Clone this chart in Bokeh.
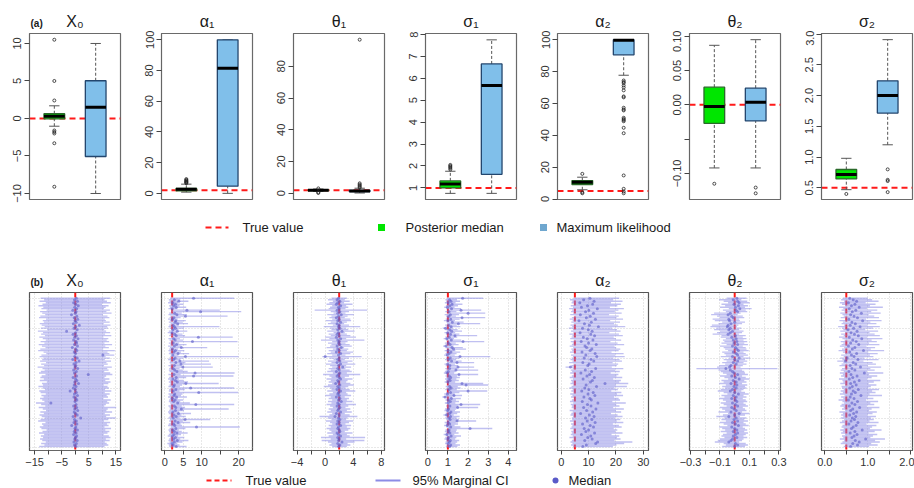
from bokeh.plotting import figure
from bokeh.layouts import row, column
from bokeh.models import Range1d, FixedTicker, Span, ColumnDataSource
from bokeh.embed import file_html
from bokeh.resources import INLINE
from bokeh.core.properties import value

FONT = "Liberation Sans"

params = ["X₀", "α₁", "θ₁", "σ₁", "α₂", "θ₂", "σ₂"]
true_values = [0, 2, 2, 1, 5, 0, 0.5]

# ---------------- (a) boxplots of the point estimates ----------------
# five-number summaries: lower whisker, Q1, median, Q3, upper whisker
post_median_box = [
    [-1.03, -0.04, 0.31, 0.63, 1.69],
    [0.8, 1.7, 2.6, 3.2, 6.0],
    [1.2, 1.75, 1.95, 2.15, 2.7],
    [0.75, 1.0, 1.18, 1.32, 1.76],
    [5.8, 9.1, 10.5, 11.6, 13.7],
    [-0.092, -0.027, -0.0025, 0.0258, 0.0868],
    [0.47, 0.644, 0.716, 0.798, 0.98],
]
max_lik_box = [
    [-10.0, -5.07, 1.51, 5.03, 10.0],
    [0.0, 4.7, 81.4, 100.0, 100.0],
    [0.2, 1.0, 1.4, 1.9, 3.2],
    [0.75, 1.62, 5.67, 6.66, 7.76],
    [77.7, 90.5, 99.6, 100.0, 100.0],
    [-0.092, -0.0234, 0.0038, 0.0243, 0.095],
    [1.2, 1.716, 2.0, 2.24, 2.91],
]
post_median_out = [
    [10.5, 5.0, 2.4, -1.6, -1.8, -2.0, -3.3, -9.1],
    [6.6, 7.0, 7.4, 7.8, 8.2, 8.7, 9.3],
    [0.2, 0.6, 3.1],
    [1.84, 1.9, 1.95, 2.0, 2.05],
    [15.8, 4.2, 3.6],
    [-0.115],
    [0.40],
]
max_lik_out = [
    [],
    [],
    [3.6, 4.2, 4.9, 5.5, 6.3, 96.8],
    [],
    [74.4, 73.5, 72.8, 71.3, 70.0, 68.2, 64.4, 63.8, 57.3, 56.2, 55.6, 51.0,
     50.2, 49.5, 48.8, 44.7, 41.3, 14.8, 6.4, 4.7, 3.6],
    [-0.1206, -0.129],
    [0.80, 0.63, 0.61, 0.43],
]
box_ylim = [(-10.8, 11.33), (-4.0, 104.1), (-3.9, 100.7), (0.47, 8.05),
            (-0.3, 103.9), (-0.138, 0.104), (0.31, 3.01)]
box_yticks = [
    [-10, -5, 0, 5, 10],
    [0, 20, 40, 60, 80, 100],
    [0, 20, 40, 60, 80],
    [1, 2, 3, 4, 5, 6, 7, 8],
    [0, 20, 40, 60, 80, 100],
    [-0.1, -0.05, 0.0, 0.05, 0.1],
    [0.5, 1.0, 1.5, 2.0, 2.5, 3.0],
]
box_ylabels = [
    ["−10", "−5", "0", "5", "10"],
    ["0", "20", "40", "60", "80", "100"],
    ["0", "20", "40", "60", "80"],
    ["1", "2", "3", "4", "5", "6", "7", "8"],
    ["0", "20", "40", "60", "80", "100"],
    ["−0.10", "", "0.00", "0.05", "0.10"],
    ["0.5", "1.0", "1.5", "2.0", "2.5", "3.0"],
]

# ---------------- (b) 95% marginal intervals, 100 data sets (top row first) ----------------
lo_x0 = [-12.8,-11.5,-13.2,-10.9,-12.1,-13.6,-11.8,-12.5,-10.6,-13.0,
         -12.2,-11.1,-12.9,-13.4,-10.8,-12.0,-11.6,-13.1,-12.4,-11.3,
         -12.7,-10.4,-13.8,-11.9,-12.6,-11.2,-13.3,-12.0,-10.9,-12.8,
         -11.4,-13.5,-12.3,-11.0,-12.9,-13.7,-11.7,-10.7,-12.5,-13.2,
         -11.8,-12.2,-13.0,-10.8,-12.6,-11.5,-13.9,-12.1,-11.3,-12.7,
         -13.4,-11.0,-12.4,-12.9,-11.6,-13.1,-10.5,-12.3,-11.9,-13.6,
         -12.0,-11.2,-13.3,-12.8,-10.9,-12.5,-11.7,-13.0,-12.2,-11.4,
         -14.5,-12.6,-11.1,-13.5,-12.0,-10.8,-12.9,-11.6,-13.2,-12.4,
         -11.3,-12.8,-13.7,-11.0,-12.3,-11.8,-13.1,-12.5,-10.6,-12.1,
         -13.4,-11.5,-12.7,-11.9,-13.0,-12.2,-10.9,-12.6,-11.4,-13.3]
med_x0 = [0.4,-0.3,0.8,-0.6,0.2,1.1,-0.2,0.5,-0.9,0.3,
          0.0,-1.4,0.6,-0.4,0.9,-0.1,0.3,-0.7,1.5,0.2,
          -0.5,0.7,-3.2,0.1,-0.8,0.4,-0.2,1.0,-0.6,0.3,
          0.5,-0.3,0.8,-1.1,0.2,0.6,-0.4,0.1,10.2,-0.2,
          0.7,-0.9,1.4,0.3,-0.5,0.2,-0.1,0.9,-0.6,0.4,
          -0.3,4.8,0.5,-0.8,0.1,0.6,-0.2,1.2,-0.4,0.3,
          -0.7,0.0,-1.9,0.4,-0.3,0.8,-0.5,0.2,0.6,-0.1,
          -9.0,0.3,-0.6,0.5,-0.2,0.9,-0.4,0.1,0.7,-0.8,
          2.0,-0.3,0.4,-0.5,0.6,-1.3,0.2,-0.1,0.8,-0.4,
          0.3,-0.6,0.5,0.1,-0.2,0.7,-0.5,0.4,-0.3,0.2]
hi_x0 = [12.9,10.8,11.7,13.1,9.9,12.3,11.2,10.6,12.8,11.5,
         13.4,10.2,11.9,12.6,10.9,11.3,12.7,10.5,13.0,11.8,
         12.1,10.7,11.4,12.9,11.0,13.3,10.4,12.2,11.6,12.5,
         10.8,13.6,11.1,12.4,10.3,14.6,11.9,12.6,14.4,11.2,
         12.8,10.9,13.2,11.5,12.0,10.6,13.5,11.8,12.3,10.7,
         12.9,13.7,11.4,10.8,12.6,11.1,13.0,12.2,10.5,11.9,
         12.4,11.0,13.3,10.9,12.7,11.6,12.1,10.4,13.1,11.8,
         12.5,11.3,10.7,15.1,12.0,11.5,13.6,10.9,12.8,11.4,
         14.9,12.2,10.6,12.9,11.7,12.3,10.8,13.2,11.1,12.6,
         11.9,10.5,12.4,13.0,11.3,12.7,10.9,11.6,12.2,10.8]

lo_a1 = [1.5,1.1,1.3,0.9,1.6,1.2,1.4,1.0,1.7,1.8,
         1.2,1.0,1.5,1.3,0.9,1.4,1.1,1.6,1.2,1.0,
         1.3,1.7,1.1,0.8,1.4,1.2,1.9,1.0,1.3,1.6,
         1.1,1.5,0.9,1.4,1.2,1.0,1.3,1.1,1.6,1.5,
         1.2,0.9,1.4,1.3,1.5,1.0,1.4,1.2,1.1,1.3,
         1.8,1.0,1.6,1.2,0.9,1.4,1.1,1.5,1.3,1.0,
         1.7,1.2,1.1,1.8,1.0,1.3,0.9,1.4,1.2,1.1,
         1.5,1.6,1.0,1.3,1.4,1.2,0.9,1.1,1.5,1.3,
         1.0,1.4,1.2,1.6,1.1,0.9,1.7,1.3,1.0,1.2,
         1.4,1.1,0.8,1.5,1.2,1.0,1.3,0.7,1.1,1.2]
med_a1 = [7.8,2.6,3.8,2.2,2.9,2.4,3.1,2.0,6.0,9.7,
          2.7,3.3,5.6,2.5,2.1,3.0,2.8,3.5,2.3,2.6,
          2.9,2.2,3.4,2.0,2.7,3.1,9.1,2.4,2.8,7.5,
          2.3,3.2,2.6,4.5,2.1,2.9,2.5,3.6,2.2,5.6,
          2.8,2.4,4.1,3.0,4.4,2.6,4.9,2.3,2.7,3.3,
          8.2,2.5,7.8,3.1,2.2,2.9,3.4,5.7,2.6,2.4,
          7.0,3.0,2.3,9.2,2.7,2.5,3.2,2.1,2.8,2.4,
          3.5,8.4,2.6,3.0,4.5,2.9,2.2,3.7,2.5,3.1,
          2.3,5.5,2.8,3.6,2.4,2.7,8.6,3.0,2.2,2.6,
          3.3,2.5,2.1,2.9,2.4,3.4,2.6,2.0,2.3,3.1]
hi_a1 = [18.8,4.2,6.4,3.6,5.1,4.0,5.8,3.4,14.9,20.7,
         4.6,6.0,17.0,4.3,3.5,5.7,4.9,6.3,3.8,14.8,
         5.2,3.7,6.1,3.3,4.8,5.5,18.4,4.1,5.0,19.7,
         3.9,5.9,4.5,11.5,3.6,5.3,4.4,6.6,3.7,20.0,
         5.0,4.2,12.0,5.6,12.5,4.6,13.0,4.0,4.9,6.2,
         18.9,4.3,18.6,5.8,3.8,5.1,6.3,14.6,4.7,4.1,
         18.8,5.4,4.0,19.9,4.8,4.4,6.0,3.5,5.0,4.2,
         6.8,18.8,4.6,5.5,17.3,5.2,3.9,7.1,4.5,5.7,
         4.0,12.3,4.9,6.9,4.3,4.7,20.3,5.6,3.8,4.6,
         6.2,4.4,3.6,5.3,4.2,6.4,4.8,3.4,4.0,5.9]

lo_t1 = [0.9,0.4,1.1,0.6,0.2,1.0,0.7,0.5,-1.5,0.8,
         1.2,0.3,0.9,0.6,1.0,0.1,0.8,0.4,1.1,-0.2,
         0.7,0.9,0.3,1.2,0.5,0.8,0.0,0.6,-0.6,1.0,
         0.4,0.9,0.7,0.2,1.1,0.5,0.8,0.3,1.0,-0.4,
         0.6,1.2,0.4,0.9,0.1,0.7,1.0,0.5,0.8,0.3,
         1.1,-0.3,0.6,0.9,0.2,0.8,0.5,1.0,0.4,-0.2,
         0.7,0.9,0.3,1.1,0.6,0.0,0.8,0.5,1.0,0.4,
         0.9,0.2,0.7,1.1,0.5,0.8,0.3,1.0,0.6,-0.8,
         0.4,0.9,0.1,0.7,1.0,0.5,0.8,0.2,0.6,0.9,
         0.3,1.1,0.5,-0.6,0.8,-0.5,0.4,0.9,0.6,1.0]
med_t1 = [1.9,1.7,2.1,1.8,1.6,2.2,1.9,2.0,1.7,2.1,
          1.8,2.3,1.9,1.6,2.0,1.8,2.2,1.7,2.0,1.9,
          2.1,1.8,2.4,1.9,1.7,2.0,1.6,2.2,1.8,2.0,
          1.9,2.1,1.7,2.3,1.8,2.0,1.6,2.2,1.9,0.0,
          2.0,1.8,2.1,1.7,2.2,1.9,2.5,1.8,2.0,1.6,
          2.1,1.9,1.7,2.0,2.2,1.8,1.9,1.5,2.1,1.8,
          2.0,1.7,2.2,1.9,1.8,2.0,1.6,2.1,1.9,2.3,
          1.8,2.0,1.7,2.1,1.9,1.8,2.2,1.6,2.0,1.4,
          1.9,2.1,1.8,2.0,1.7,2.2,1.9,1.8,2.0,2.1,
          1.7,1.9,2.2,1.8,2.0,1.9,2.4,1.8,2.1,1.9]
hi_t1 = [3.1,2.8,3.5,2.7,3.9,3.0,3.3,2.9,6.0,3.4,
         2.9,4.1,3.2,2.8,3.6,3.7,3.1,2.7,3.4,5.0,
         3.0,3.3,4.2,2.8,3.1,3.6,4.4,3.0,5.6,3.2,
         2.9,3.5,3.8,2.7,3.3,3.1,4.0,3.6,2.9,5.2,
         3.4,2.8,3.9,3.2,4.3,3.0,3.7,2.9,3.5,3.8,
         3.1,5.0,3.4,2.8,3.9,3.2,3.0,3.6,4.1,3.3,
         2.9,3.5,4.3,3.0,3.2,3.7,2.8,3.4,3.1,3.9,
         3.0,4.4,3.3,2.9,3.6,3.1,3.8,2.8,3.5,4.6,
         3.2,3.0,4.0,3.4,2.9,3.7,3.1,3.6,3.3,2.8,
         3.9,3.1,3.5,5.7,3.0,5.6,4.2,3.2,3.6,3.1]

lo_s1 = [0.95,0.88,0.92,0.85,0.97,0.90,0.82,0.93,0.96,0.87,
         0.98,0.84,0.91,0.95,0.89,0.80,0.93,0.97,0.86,0.92,
         0.74,0.88,0.95,0.83,0.90,0.96,0.87,0.79,0.93,0.98,
         0.85,0.91,0.76,0.89,0.95,0.84,0.92,0.88,0.81,0.97,
         0.90,0.86,0.94,0.99,0.83,0.89,0.96,0.87,0.92,0.85,
         0.80,0.97,0.88,0.93,0.86,0.91,0.84,0.98,0.99,0.89,
         0.95,0.87,1.00,0.92,0.82,0.90,0.73,0.94,0.88,0.96,
         0.85,0.99,0.91,0.97,0.86,0.83,0.93,0.89,0.78,0.95,
         0.87,0.92,0.96,0.84,0.90,0.81,0.93,1.00,0.88,0.85,
         0.91,0.79,0.95,0.87,0.83,0.92,0.89,0.86,0.94,0.90]
med_s1 = [1.73,1.08,1.15,1.02,1.21,1.10,0.98,1.18,1.65,1.06,
          2.00,1.12,1.04,1.70,1.14,1.00,1.22,1.52,1.05,1.16,
          0.88,1.09,1.19,0.99,1.13,1.35,1.07,0.95,1.17,1.75,
          1.03,1.11,0.90,1.20,1.28,1.01,1.15,1.06,0.97,1.60,
          1.12,1.04,1.18,1.45,0.99,1.10,1.50,1.08,1.40,1.02,
          0.96,1.55,1.07,1.14,1.05,1.11,1.00,1.70,1.90,1.09,
          1.16,1.06,2.00,1.13,0.98,1.30,0.86,1.17,1.03,1.12,
          1.01,1.65,1.10,1.48,1.04,0.99,1.15,1.08,0.94,1.13,
          1.05,1.11,1.45,1.02,1.09,0.97,1.14,2.10,1.06,1.03,
          1.10,0.95,1.16,1.04,1.00,1.12,1.07,1.01,1.14,1.08]
hi_s1 = [2.75,1.45,1.60,1.38,1.72,1.50,1.33,1.65,2.65,1.42,
         2.85,1.55,1.40,2.85,1.58,1.35,1.78,2.60,1.44,1.62,
         1.25,1.48,1.70,1.36,1.57,2.45,1.46,1.30,1.66,2.80,
         1.39,1.53,1.28,1.74,1.90,1.37,1.61,1.43,1.34,3.10,
         1.56,1.41,1.68,2.30,1.35,1.50,2.30,1.47,2.50,1.38,
         1.31,2.50,1.45,1.59,1.42,1.54,1.36,2.75,3.00,1.49,
         1.63,1.44,2.95,1.57,1.34,1.70,1.22,1.64,1.40,1.55,
         1.37,2.60,1.52,2.50,1.41,1.35,1.60,1.46,1.29,1.58,
         1.43,1.55,2.40,1.39,1.50,1.33,1.62,3.20,1.44,1.40,
         1.53,1.32,1.65,1.42,1.36,1.56,1.46,1.38,1.60,1.47]

lo_a2 = [4.5,3.2,4.1,3.8,4.7,3.5,4.3,2.9,4.0,3.6,
         4.4,3.3,4.8,3.9,3.1,4.2,3.7,4.6,3.4,4.0,
         2.8,4.3,3.6,4.5,3.0,4.1,3.8,3.3,4.6,3.5,
         4.2,3.9,3.1,4.4,3.7,4.0,3.2,4.7,3.6,4.3,
         3.8,3.4,4.1,2.9,4.5,3.7,1.6,4.2,3.5,4.0,
         3.3,4.6,3.9,3.1,4.3,3.6,4.0,3.4,4.4,3.8,
         3.0,4.2,3.7,4.5,3.3,4.1,3.6,4.8,3.9,3.2,
         4.4,3.5,4.0,3.8,4.6,3.1,4.2,3.7,3.4,4.3,
         3.9,4.0,3.2,4.5,3.6,4.1,3.8,3.3,4.4,3.7,
         4.0,3.5,4.2,3.0,4.6,3.9,3.4,4.1,3.6,4.3]
med_a2 = [10.5,8.2,12.0,6.8,11.5,9.6,7.4,13.2,10.1,8.9,
          11.8,7.0,10.6,9.2,12.5,6.5,11.0,8.5,10.3,13.6,
          7.8,9.9,11.3,6.9,10.8,12.2,8.1,9.5,11.6,7.3,
          10.0,12.8,8.7,9.3,11.2,10.6,7.6,12.4,9.0,13.0,
          8.4,10.9,11.9,7.9,10.2,9.7,3.4,12.6,8.8,11.1,
          7.2,10.4,9.4,12.1,8.0,11.4,10.7,16.0,9.1,12.9,
          8.6,10.1,7.5,11.7,9.8,12.3,8.3,10.5,11.0,7.7,
          13.4,9.6,10.9,8.2,12.7,9.3,11.5,7.1,10.3,12.0,
          8.9,11.2,9.5,12.4,7.8,10.6,11.8,8.4,10.0,9.0,
          12.2,7.4,10.8,9.7,11.3,8.6,13.3,12.6,9.2,7.9]
hi_a2 = [21.2,19.0,22.4,18.2,21.8,20.5,17.8,22.9,20.9,19.6,
         22.1,17.5,21.0,20.2,22.6,17.9,21.5,19.3,20.7,23.4,
         18.6,20.4,21.7,17.6,21.1,22.5,19.2,20.0,21.9,18.0,
         20.6,23.0,19.5,20.1,21.6,21.0,18.4,22.8,19.8,23.2,
         19.1,21.3,22.2,18.8,20.8,20.3,18.5,22.7,19.7,21.4,
         18.1,20.9,20.2,22.3,19.0,21.8,21.2,24.5,20.0,24.0,
         19.4,20.7,18.3,22.0,20.4,22.6,19.3,21.0,21.5,18.7,
         23.6,20.1,21.3,19.0,22.9,20.0,21.9,18.2,20.6,22.4,
         19.6,21.6,20.3,22.7,18.9,21.1,22.1,19.2,20.5,19.8,
         22.4,18.4,21.2,20.4,21.7,19.5,26.0,23.0,20.2,18.9]

lo_t2 = [-0.055,-0.105,-0.075,-0.045,-0.090,-0.065,-0.100,-0.040,-0.080,-0.060,
         -0.140,-0.160,-0.120,-0.100,-0.150,-0.135,-0.085,-0.110,-0.155,-0.165,
         -0.125,-0.140,-0.100,-0.120,-0.150,-0.090,-0.095,-0.060,-0.080,-0.070,
         -0.090,-0.055,-0.100,-0.075,-0.065,-0.045,-0.085,-0.070,-0.060,-0.095,
         -0.040,-0.075,-0.055,-0.085,-0.065,-0.105,-0.120,-0.260,-0.110,-0.095,
         -0.080,-0.055,-0.100,-0.070,-0.045,-0.090,-0.075,-0.105,-0.060,-0.085,
         -0.065,-0.095,-0.115,-0.075,-0.050,-0.090,-0.070,-0.105,-0.080,-0.060,
         -0.095,-0.075,-0.055,-0.100,-0.085,-0.065,-0.110,-0.045,-0.080,-0.125,
         -0.070,-0.090,-0.060,-0.100,-0.075,-0.050,-0.105,-0.085,-0.065,-0.095,
         -0.055,-0.080,-0.090,-0.070,-0.100,-0.115,-0.135,-0.075,-0.060,-0.085]
med_t2 = [0.015,-0.010,0.020,0.030,-0.005,0.025,0.005,0.035,0.010,0.020,
          -0.030,-0.045,-0.020,-0.010,-0.040,-0.035,0.000,-0.025,-0.045,-0.050,
          -0.030,-0.040,-0.015,-0.030,-0.045,0.005,-0.020,0.010,-0.010,0.015,
          -0.005,0.020,-0.015,0.005,0.015,0.025,-0.010,0.010,0.020,-0.015,
          0.030,0.000,0.020,-0.010,0.010,-0.025,-0.035,-0.060,-0.030,-0.015,
          -0.005,0.020,-0.020,0.005,0.030,-0.010,0.010,-0.025,0.015,-0.005,
          0.010,-0.015,-0.030,0.000,0.025,-0.010,0.010,-0.020,0.005,0.015,
          -0.015,0.005,0.020,-0.020,-0.005,0.010,-0.025,0.030,0.000,-0.040,
          0.010,-0.005,0.020,-0.015,0.005,0.025,-0.020,0.000,0.015,-0.010,
          0.020,0.005,-0.010,0.015,-0.015,-0.025,-0.040,0.005,0.020,0.000]
hi_t2 = [0.080,0.045,0.085,0.100,0.060,0.090,0.070,0.115,0.075,0.085,
         0.040,0.020,0.055,0.065,0.030,0.035,0.070,0.050,0.025,0.015,
         0.045,0.030,0.060,0.050,0.030,0.075,0.055,0.080,0.060,0.085,
         0.065,0.090,0.055,0.075,0.080,0.095,0.060,0.075,0.090,0.060,
         0.105,0.070,0.085,0.060,0.080,0.055,0.040,0.290,0.050,0.065,
         0.070,0.090,0.050,0.075,0.100,0.065,0.080,0.050,0.085,0.070,
         0.080,0.060,0.045,0.070,0.095,0.060,0.080,0.055,0.075,0.085,
         0.060,0.075,0.090,0.055,0.070,0.080,0.050,0.100,0.070,0.035,
         0.080,0.065,0.090,0.060,0.075,0.095,0.055,0.070,0.085,0.065,
         0.090,0.075,0.060,0.085,0.060,0.050,0.030,0.075,0.090,0.070]

lo_s2 = [0.42,0.38,0.45,0.35,0.40,0.47,0.33,0.43,0.39,0.46,
         0.36,0.41,0.44,0.37,0.48,0.34,0.42,0.39,0.45,0.31,
         0.40,0.43,0.36,0.47,0.38,0.44,0.33,0.41,0.46,0.37,
         0.43,0.39,0.35,0.45,0.40,0.32,0.42,0.47,0.38,0.44,
         0.36,0.41,0.29,0.43,0.39,0.34,0.46,0.40,0.37,0.44,
         0.35,0.42,0.38,0.45,0.33,0.41,0.43,0.36,0.47,0.39,
         0.40,0.44,0.37,0.42,0.35,0.46,0.38,0.43,0.32,0.41,
         0.45,0.39,0.36,0.44,0.40,0.47,0.34,0.42,0.38,0.43,
         0.37,0.45,0.40,0.35,0.46,0.41,0.39,0.44,0.36,0.42,
         0.38,0.47,0.40,0.43,0.35,0.45,0.41,0.37,0.48,0.44]
med_s2 = [0.58,0.66,0.74,0.55,0.70,0.62,0.80,0.57,0.72,0.64,
          0.85,0.60,0.68,0.76,0.56,0.88,0.63,0.71,0.59,0.82,
          0.67,0.54,0.75,0.61,0.69,0.78,0.57,0.86,0.65,0.73,
          0.60,0.79,0.55,0.70,0.64,0.90,0.58,0.74,0.62,0.68,
          0.52,0.77,0.48,0.66,0.72,0.59,0.83,0.63,0.70,0.56,
          0.92,0.61,0.75,0.65,0.57,0.80,0.69,0.60,0.73,0.64,
          0.58,0.78,0.66,0.71,0.62,0.84,0.59,0.68,0.55,0.76,
          0.63,0.70,0.57,0.81,0.65,0.60,0.74,0.67,0.58,0.72,
          0.64,0.69,0.61,0.77,0.56,0.73,0.66,0.62,0.87,0.70,
          0.59,0.75,0.68,0.63,0.95,0.71,0.80,0.65,0.76,0.60]
hi_s2 = [1.00,1.10,1.25,0.95,1.18,1.05,1.35,0.98,1.22,1.08,
         1.30,1.02,1.15,1.26,0.96,1.32,1.06,1.20,1.00,1.28,
         1.12,0.94,1.24,1.04,1.16,1.28,0.99,1.34,1.09,1.21,
         1.03,1.27,0.97,1.17,1.07,1.38,1.01,1.23,1.05,1.13,
         0.92,1.25,0.90,1.11,1.19,1.00,1.31,1.06,1.16,0.98,
         1.36,1.03,1.22,1.09,0.99,1.29,1.14,1.02,1.20,1.07,
         1.01,1.26,1.10,1.18,1.04,1.33,1.00,1.13,0.96,1.24,
         1.06,1.15,0.98,1.27,1.09,1.03,1.21,1.11,1.00,1.19,
         1.07,1.14,1.04,1.25,0.97,1.20,1.10,1.05,1.32,1.16,
         1.02,1.22,1.12,1.06,1.40,1.17,1.28,1.08,1.23,1.03]

ci_lo = [lo_x0, lo_a1, lo_t1, lo_s1, lo_a2, lo_t2, lo_s2]
ci_med = [med_x0, med_a1, med_t1, med_s1, med_a2, med_t2, med_s2]
ci_hi = [hi_x0, hi_a1, hi_t1, hi_s1, hi_a2, hi_t2, hi_s2]

ci_xlim = [(-16.9, 16.7), (-0.88, 23.75), (-4.52, 8.47), (-0.11, 4.4),
           (-1.35, 31.9), (-0.307, 0.311), (-0.077, 2.04)]
ci_xticks = [
    [-15, -10, -5, 0, 5, 10, 15],
    [0, 5, 10, 15, 20],
    [-4, -2, 0, 2, 4, 6, 8],
    [0, 1, 2, 3, 4],
    [0, 10, 20, 30],
    [-0.3, -0.2, -0.1, 0.0, 0.1, 0.2, 0.3],
    [0.0, 0.5, 1.0, 1.5, 2.0],
]
ci_xlabels = [
    ["−15", "", "−5", "", "5", "", "15"],
    ["0", "5", "10", "", "20"],
    ["−4", "", "0", "", "4", "", "8"],
    ["0", "1", "2", "3", "4"],
    ["0", "10", "20", "30"],
    ["−0.3", "", "−0.1", "", "0.1", "", "0.3"],
    ["0.0", "", "1.0", "", "2.0"],
]
row_grid = [0, 20, 40, 60, 80, 100]

# ---------------- styling / layout ----------------
PM_FILL, PM_LINE = "#00e600", "#2a6a2a"
ML_FILL, ML_LINE = "#80bfea", "#23466e"
CI_COLOR, MED_COLOR = "#8c8ce6", "#5a5ac8"
BOX_W = 0.5
PANEL_W, LAST_W = 132, 122
FRAME_L, FRAME_W = 29, 91
PAGE_W = 914


def base_fig(i, height, x_range, y_range, top, bottom):
    last = i == len(params) - 1
    p = figure(width=LAST_W if last else PANEL_W, height=height,
               x_range=x_range, y_range=y_range,
               min_border_left=FRAME_L, min_border_right=2 if last else 12,
               min_border_top=top, min_border_bottom=bottom,
               output_backend="svg", toolbar_location=None)
    p.outline_line_color = "#6a6a6a"
    p.outline_line_width = 1.2
    p.background_fill_color = "white"
    p.border_fill_color = "white"
    return p


def style_axis(ax, ticks, labels, orientation="horizontal"):
    ax.ticker = FixedTicker(ticks=ticks)
    ax.major_label_overrides = {t: s for t, s in zip(ticks, labels)}
    ax.minor_tick_line_color = None
    ax.major_tick_in = 0
    ax.major_tick_out = 4
    ax.major_tick_line_color = "#444444"
    ax.axis_line_color = "#666666"
    ax.major_label_text_font = FONT
    ax.major_label_text_font_size = "11px"
    ax.major_label_text_color = "#333333"
    ax.major_label_standoff = 3
    ax.major_label_orientation = orientation


def box_panel(i):
    p = base_fig(i, 180, Range1d(0.4, 2.6), Range1d(*box_ylim[i]), 3, 11)
    p.xaxis.visible = False
    p.grid.visible = False
    style_axis(p.yaxis[0], box_yticks[i], box_ylabels[i], "vertical")
    p.yaxis.major_tick_out = 5

    p.add_layout(Span(location=true_values[i], dimension="width", line_color="#ff1a1a",
                      line_dash="6 4", line_width=2, level="underlay"))

    stats = [post_median_box[i], max_lik_box[i]]
    xs = [1, 2]
    src = ColumnDataSource(dict(
        x=xs,
        left=[x - BOX_W / 2 for x in xs], right=[x + BOX_W / 2 for x in xs],
        cl=[x - BOX_W / 4 for x in xs], cr=[x + BOX_W / 4 for x in xs],
        lw=[s[0] for s in stats], q1=[s[1] for s in stats], med=[s[2] for s in stats],
        q3=[s[3] for s in stats], hw=[s[4] for s in stats],
        fill=[PM_FILL, ML_FILL], line=[PM_LINE, ML_LINE],
    ))
    p.segment("x", "q3", "x", "hw", source=src, line_color="#555555", line_dash="3 2", line_width=1)
    p.segment("x", "lw", "x", "q1", source=src, line_color="#555555", line_dash="3 2", line_width=1)
    p.segment("cl", "hw", "cr", "hw", source=src, line_color="#555555", line_width=1)
    p.segment("cl", "lw", "cr", "lw", source=src, line_color="#555555", line_width=1)
    p.quad(left="left", right="right", bottom="q1", top="q3", source=src,
           fill_color="fill", line_color="line", line_width=1.3)
    p.segment("left", "med", "right", "med", source=src, line_color="black", line_width=3)

    ox = [1] * len(post_median_out[i]) + [2] * len(max_lik_out[i])
    oy = post_median_out[i] + max_lik_out[i]
    p.scatter(ox, oy, marker="circle", size=3, fill_color=None, line_color="#222222", line_width=0.8)
    return p


def ci_panel(i):
    n = len(ci_lo[i])
    p = base_fig(i, 183, Range1d(*ci_xlim[i]), Range1d(-1.7, n + 3.8), 3, 22)
    p.yaxis.visible = False
    style_axis(p.xaxis[0], ci_xticks[i], ci_xlabels[i])
    p.xgrid.ticker = FixedTicker(ticks=ci_xticks[i])
    p.ygrid.ticker = FixedTicker(ticks=row_grid)
    p.grid.grid_line_color = "#d0d0d0"
    p.grid.grid_line_dash = "1 2"
    p.grid.grid_line_width = 1
    p.outline_line_color = "#555555"

    p.add_layout(Span(location=true_values[i], dimension="height", line_color="#ff1a1a",
                      line_dash="5 3", line_width=2, level="underlay"))
    src = ColumnDataSource(dict(
        y=[n - k for k in range(n)], lo=ci_lo[i], med=ci_med[i], hi=ci_hi[i],
    ))
    p.segment("lo", "y", "hi", "y", source=src, line_color=CI_COLOR, line_alpha=0.55, line_width=1.4)
    p.scatter("med", "y", source=src, marker="circle", size=3, fill_color=MED_COLOR,
              line_color=None, fill_alpha=0.6)
    return p


def strip(height):
    p = figure(width=PAGE_W, height=height, x_range=Range1d(0, PAGE_W), y_range=Range1d(0, height),
               min_border=0, output_backend="svg", toolbar_location=None)
    p.axis.visible = False
    p.grid.visible = False
    p.outline_line_color = None
    return p


def strip_text(p, x, y, text, size="13px", style="normal", align="left", baseline="middle"):
    p.text([x], [y], text=[text], text_font=value(FONT), text_font_size=size,
           text_font_style=style, text_color="#1a1a1a", text_baseline=baseline, text_align=align)


def title_strip(height, baseline, tag):
    p = strip(height)
    centres = [FRAME_L + FRAME_W / 2 + PANEL_W * k for k in range(len(params))]
    p.text(centres, [baseline] * len(params), text=params, text_font=value(FONT),
           text_font_size="16px", text_color="#1a1a1a", text_align="center",
           text_baseline="alphabetic")
    strip_text(p, FRAME_L + 1, baseline - 2, tag, size="10px", style="bold", baseline="alphabetic")
    return p


# panel titles and tags
head_a = title_strip(30, 9, "(a)")
head_b = title_strip(44, 9.5, "(b)")

top_row = [box_panel(i) for i in range(len(params))]
bottom_row = [ci_panel(i) for i in range(len(params))]

# legend for (a)
leg_a = strip(35)
leg_a.segment([205], [18], [228], [18], line_color="#ff1a1a", line_dash="6 4", line_width=2)
strip_text(leg_a, 242, 18, "True value")
leg_a.scatter([381], [18], marker="square", size=7, fill_color=PM_FILL, line_color=None)
strip_text(leg_a, 405, 18, "Posterior median")
leg_a.scatter([543], [18], marker="square", size=7, fill_color="#6fa7cf", line_color=None)
strip_text(leg_a, 556, 18, "Maximum likelihood")

# legend for (b)
leg_b = strip(16)
leg_b.segment([206], [8], [231], [8], line_color="#ff1a1a", line_dash="5 3", line_width=2)
strip_text(leg_b, 245, 8, "True value")
leg_b.segment([375], [8], [400], [8], line_color=CI_COLOR, line_width=2)
strip_text(leg_b, 412, 8, "95% Marginal CI")
leg_b.scatter([555], [8], marker="circle", size=6, fill_color=MED_COLOR, line_color=None)
strip_text(leg_b, 568, 8, "Median")

layout = column(head_a, row(*top_row), leg_a, head_b, row(*bottom_row), leg_b)
open("out.html", "w").write(file_html(layout, INLINE))
